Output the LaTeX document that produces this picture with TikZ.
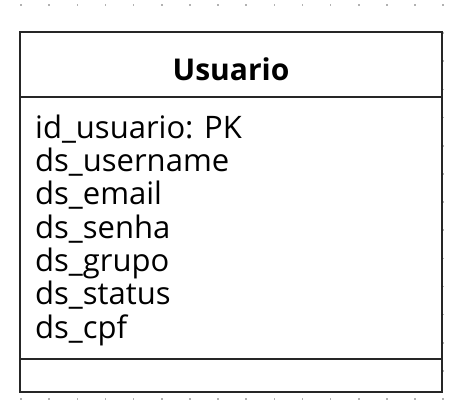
\documentclass[tikz,border=0pt]{standalone}
\usepackage{fontspec}
\setmainfont{Open Sans}
\begin{document}
\begin{tikzpicture}[x=1pt,y=-1pt,
  griddot/.style={fill=black!30,inner sep=0pt,minimum size=1.6pt,draw=none,rectangle},
  boxline/.style={draw=black!85,line width=1.5pt},
  attr/.style={anchor=base west,inner sep=0pt,font=\fontsize{31}{33}\selectfont},
  title/.style={anchor=base,inner sep=0pt,font=\fontsize{30}{33}\selectfont\bfseries}]
\useasboundingbox (0,0) rectangle (464,417);
\foreach \i in {0,...,15}{
  \foreach \j in {0,...,14}{
    \node[griddot] at ({21+28.15*\i},{5+28.15*\j}) {};
  }
}
\coordinate (tl) at (20,32);
\coordinate (br) at (442,392);
\fill[white] (tl) rectangle (br);
\coordinate (hl) at (20,97);
\coordinate (hr) at (442,97);
\coordinate (fl) at (20,359);
\coordinate (fr) at (442,359);
\draw[boxline] (tl) rectangle (br);
\draw[boxline] (hl) -- (hr);
\draw[boxline] (fl) -- (fr);
\node[title] (t) at (231,81) {Usuario};
\node[attr] (a1) at (35,138.3) {id\_usuario: PK};
\node[attr] (a2) at (35,171.6) {ds\_username};
\node[attr] (a3) at (35,204.9) {ds\_email};
\node[attr] (a4) at (35,238.2) {ds\_senha};
\node[attr] (a5) at (35,271.5) {ds\_grupo};
\node[attr] (a6) at (35,304.8) {ds\_status};
\node[attr] (a7) at (35,338.1) {ds\_cpf};
\end{tikzpicture}
\end{document}
